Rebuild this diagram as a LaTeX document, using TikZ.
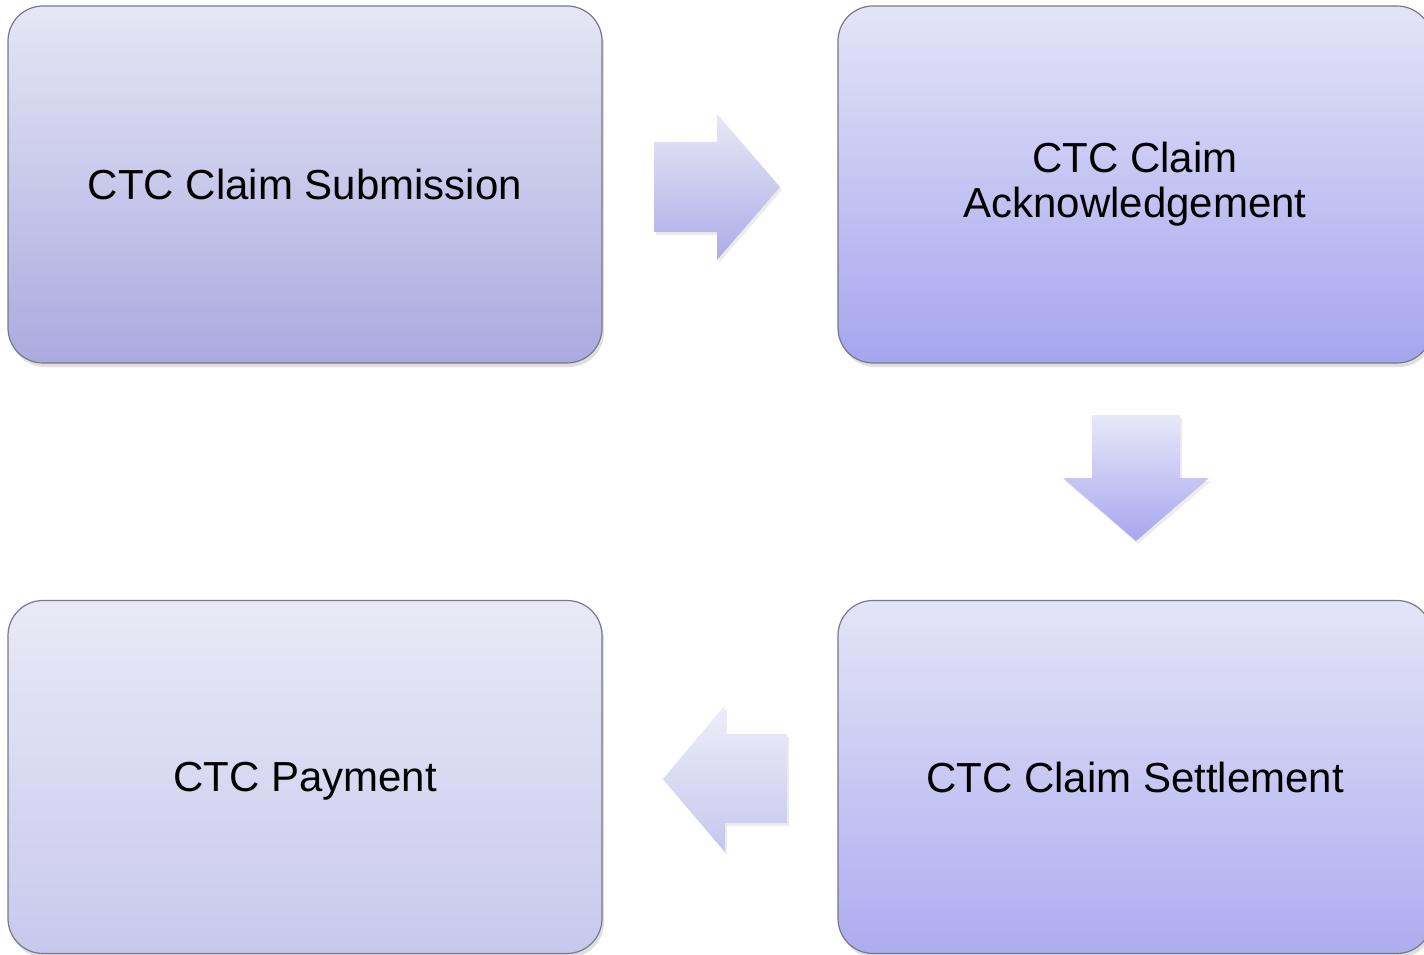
\documentclass[tikz,border=0pt]{standalone}
\usepackage{fontspec}
\setmainfont{Liberation Sans}
\usetikzlibrary{shadows}
\definecolor{edgegray}{RGB}{120,120,135}
\tikzset{
  stepbox/.style={draw=edgegray, line width=1.2pt, rounded corners=35pt,
    minimum width=594pt, minimum height=357pt, inner sep=0pt,
    align=center, font=\fontsize{42}{45}\selectfont,
    drop shadow={opacity=0.25, shadow xshift=2pt, shadow yshift=-4pt}},
  blockarrow/.style={draw=none,
    drop shadow={opacity=0.15, shadow xshift=2pt, shadow yshift=-3pt}}
}
\begin{document}
\begin{tikzpicture}[x=1pt,y=-1pt]
\useasboundingbox (0,0) rectangle (1424,955);
\clip (0,0) rectangle (1424,955);
\node[stepbox, top color={rgb,255:red,230;green,230;blue,245}, bottom color={rgb,255:red,170;green,170;blue,224}] (sub) at (305,184.5) {CTC Claim Submission};
\node[stepbox, top color={rgb,255:red,228;green,228;blue,248}, bottom color={rgb,255:red,165;green,165;blue,238}] (ack) at (1135,184.5) {CTC Claim\\Acknowledgement};
\node[stepbox, minimum height=353pt, top color={rgb,255:red,228;green,228;blue,248}, bottom color={rgb,255:red,172;green,172;blue,240}] (set) at (1135,777) {CTC Claim Settlement};
\node[stepbox, minimum height=353pt, text depth=0pt, top color={rgb,255:red,233;green,233;blue,246}, bottom color={rgb,255:red,200;green,200;blue,238}] (pay) at (305,777) {CTC Payment};
% right arrow
\path[blockarrow, top color={rgb,255:red,232;green,232;blue,246}, bottom color={rgb,255:red,172;green,172;blue,232}]
  (654,142) -- (717,142) -- (717,114) -- (780,187) -- (717,260) -- (717,232) -- (654,232) -- cycle;
% down arrow
\path[blockarrow, top color={rgb,255:red,232;green,232;blue,248}, bottom color={rgb,255:red,166;green,166;blue,240}]
  (1092,415) -- (1180,415) -- (1180,478) -- (1209,478) -- (1136,541) -- (1063,478) -- (1092,478) -- cycle;
% left arrow
\path[blockarrow, top color={rgb,255:red,238;green,238;blue,249}, bottom color={rgb,255:red,198;green,198;blue,238}]
  (787,734) -- (725,734) -- (725,705) -- (663,779) -- (725,852) -- (725,823) -- (787,823) -- cycle;
\end{tikzpicture}
\end{document}
